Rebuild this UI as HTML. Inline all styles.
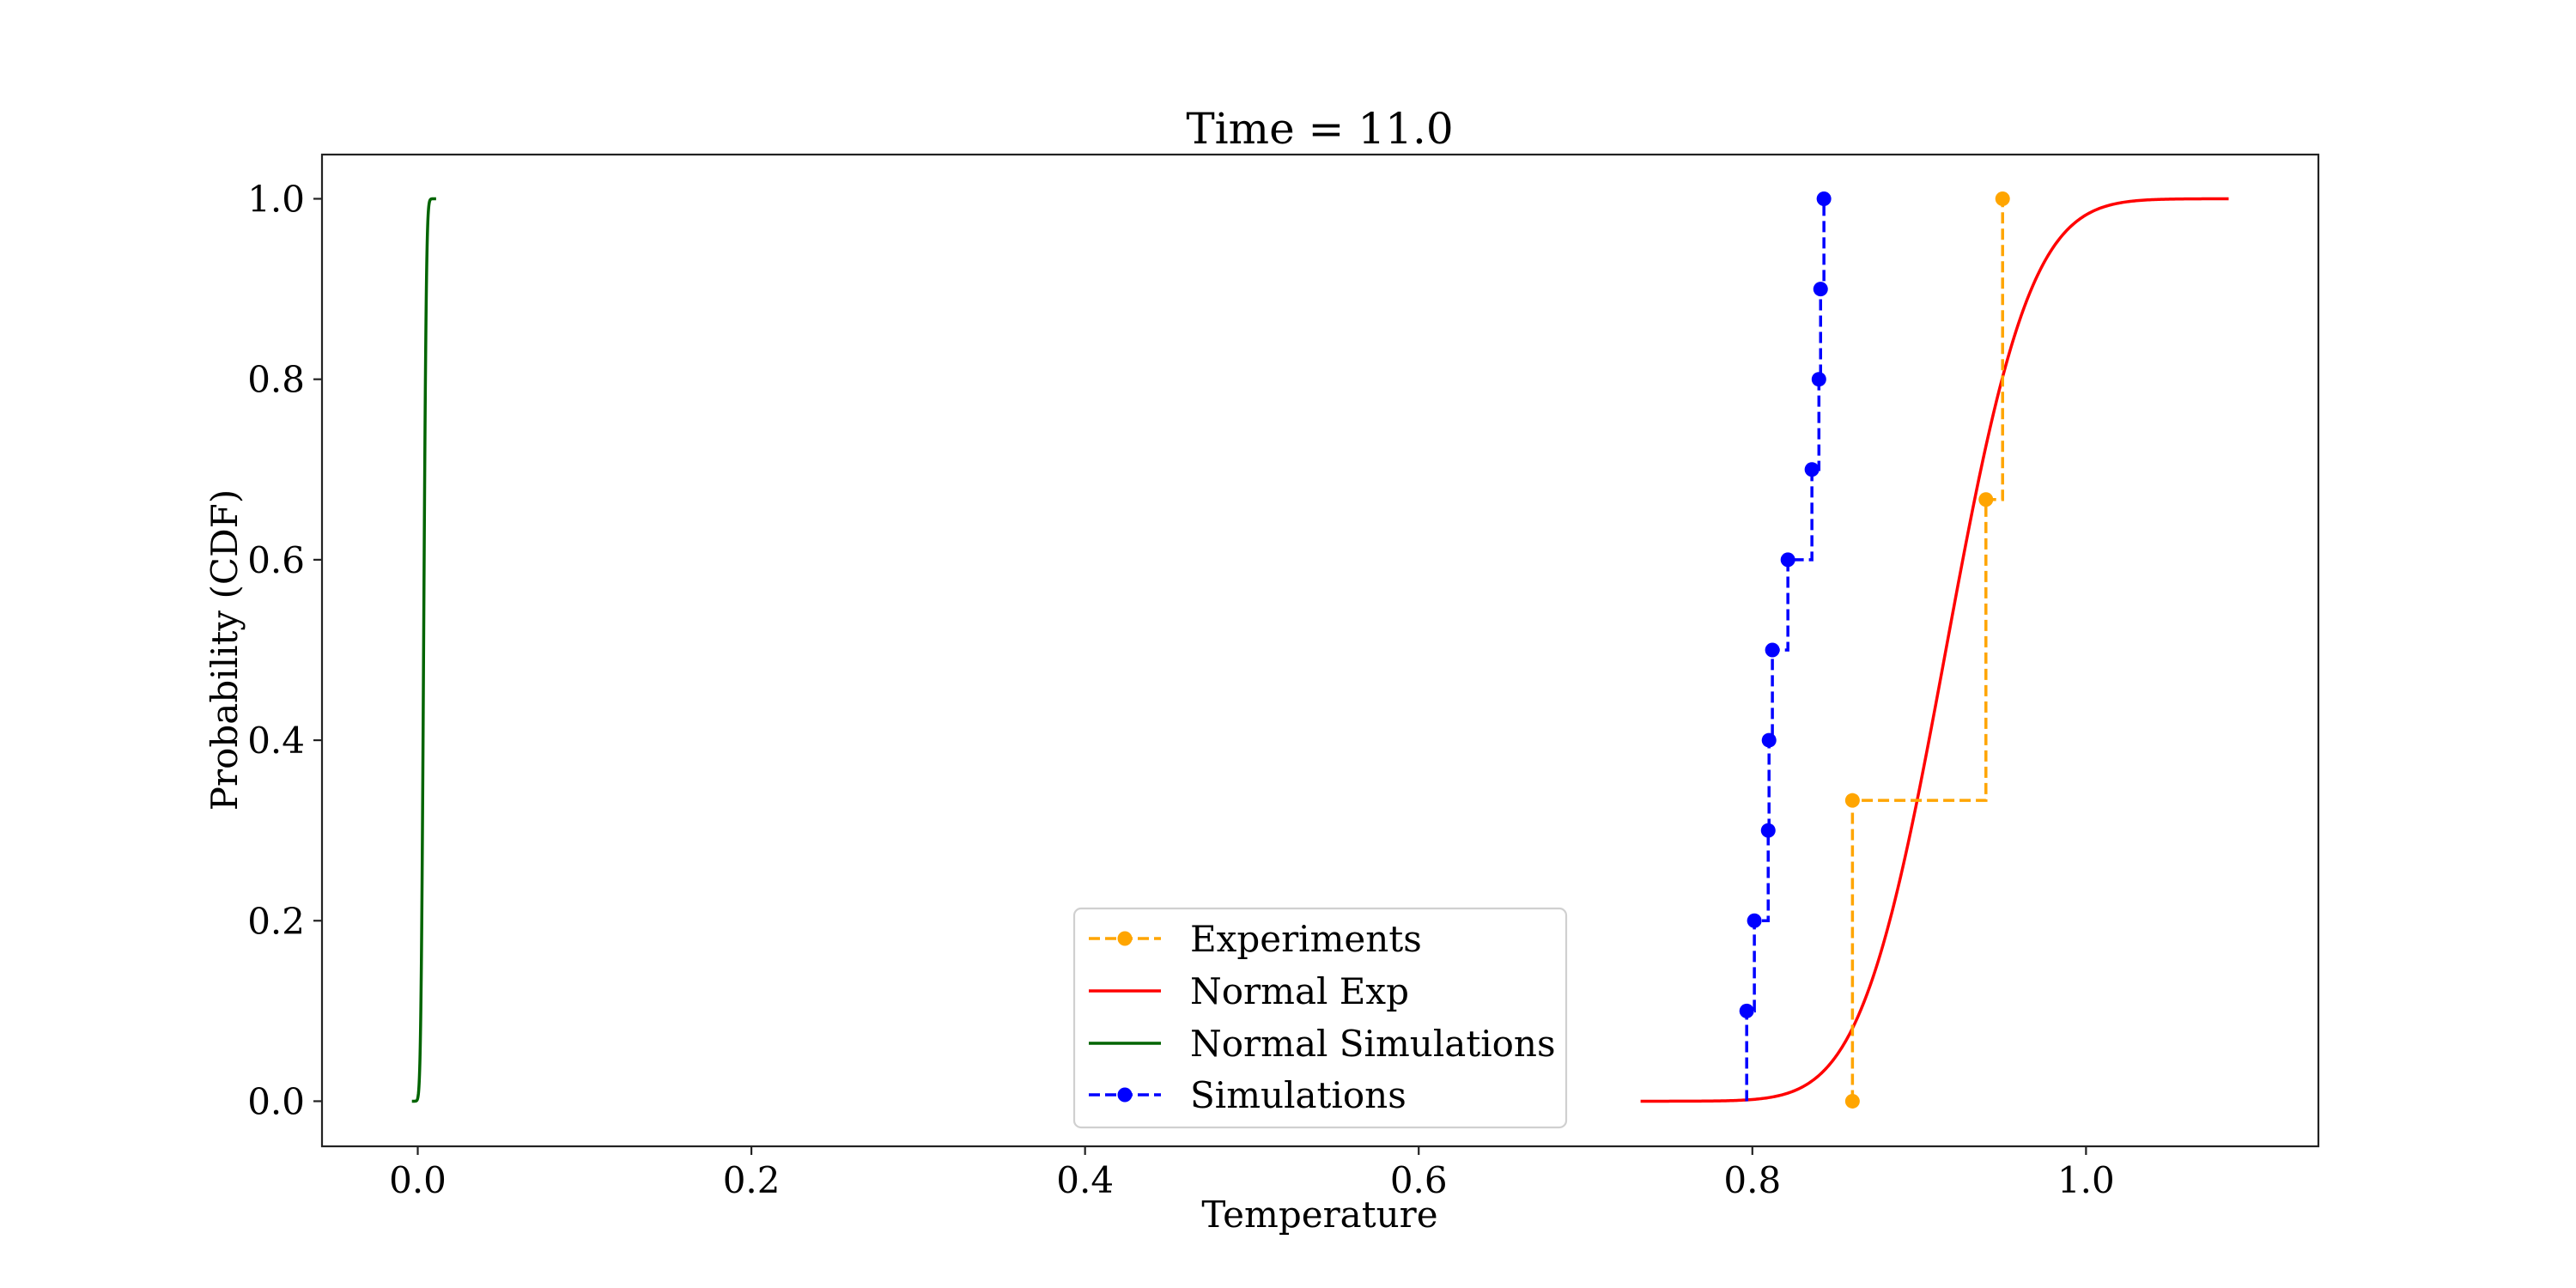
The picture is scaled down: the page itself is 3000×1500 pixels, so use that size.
<!DOCTYPE html>
<html><head><meta charset="utf-8"><style>
html,body{margin:0;padding:0;background:#fff;}
svg{display:block;font-family:"DejaVu Serif","Liberation Serif",serif;}
</style></head><body>
<svg id="chart" width="3000" height="1500" viewBox="0 0 3000 1500" xmlns="http://www.w3.org/2000/svg">
<rect x="0" y="0" width="3000" height="1500" fill="#fff"/>
<text x="1537" y="167" font-size="50" text-anchor="middle">Time = 11.0</text>
<g id="plot"></g>
<g id="axes"></g>
<text x="1537" y="1429" font-size="42" text-anchor="middle">Temperature</text>
<text transform="translate(276,757) rotate(-90)" font-size="42" text-anchor="middle">Probability (CDF)</text>
<g id="legend"></g>
</svg>
<script>
const xTicks=[0.0,0.2,0.4,0.6,0.8,1.0];
const xTickLabels=["0.0","0.2","0.4","0.6","0.8","1.0"];
const yTicks=[0.0,0.2,0.4,0.6,0.8,1.0];
const yTickLabels=["0.0","0.2","0.4","0.6","0.8","1.0"];
const simX=[0.7966,0.7966,0.8012,0.8095,0.8100,0.8120,0.8213,0.8357,0.8399,0.8409,0.8429];
const simY=[0.0,0.1,0.2,0.3,0.4,0.5,0.6,0.7,0.8,0.9,1.0];
const expX=[0.860,0.860,0.940,0.950];
const expY=[0.0,0.3333,0.6667,1.0];
const normExpParams=[0.916,0.040];
const normExpRange=[0.733,1.0855];
const normSimParams=[0.0035,0.0013];
const normSimRange=[-0.0035,0.011];

const L=375,R=2700,T=180,B=1335;
const xMin=-0.0574,xMax=1.1393,yMin=-0.05,yMax=1.049;
const sx=v=>L+(v-xMin)/(xMax-xMin)*(R-L);
const sy=v=>B-(v-yMin)/(yMax-yMin)*(B-T);
const NS="http://www.w3.org/2000/svg";
function mk(tag,attrs,parent){const e=document.createElementNS(NS,tag);for(const k in attrs)e.setAttribute(k,attrs[k]);parent.appendChild(e);return e;}
function erf(x){const s=x<0?-1:1;x=Math.abs(x);const t=1/(1+0.3275911*x);const y=1-(((((1.061405429*t-1.453152027)*t)+1.421413741)*t-0.284496736)*t+0.254829592)*t*Math.exp(-x*x);return s*y;}
function ncdf(x,m,s){return 0.5*(1+erf((x-m)/(s*Math.SQRT2)));}
const plot=document.getElementById('plot');
const axes=document.getElementById('axes');
const legend=document.getElementById('legend');

function normalPath(params,range,n){let d="";for(let i=0;i<=n;i++){const x=range[0]+(range[1]-range[0])*i/n;const y=ncdf(x,params[0],params[1]);d+=(i?"L":"M")+sx(x).toFixed(2)+","+sy(y).toFixed(2);}return d;}
function stepPath(xs,ys){let d="M"+sx(xs[0])+","+sy(ys[0]);for(let i=1;i<xs.length;i++){d+="L"+sx(xs[i])+","+sy(ys[i-1])+"L"+sx(xs[i])+","+sy(ys[i]);}return d;}

const gs=mk('path',{d:normalPath(normSimParams,normSimRange,400),fill:'none',stroke:'#006400','stroke-width':3.5},plot);


const re=mk('path',{d:normalPath(normExpParams,normExpRange,400),fill:'none',stroke:'#ff0000','stroke-width':3.5},plot);


const ol=mk('path',{d:stepPath(expX,expY),fill:'none',stroke:'#ffa500','stroke-width':3.5,'stroke-dasharray':'13,6'},plot);


for(let i=0;i<expX.length;i++){const c=mk('circle',{cx:sx(expX[i]),cy:sy(expY[i]),r:8.5,fill:'#ffa500'},plot);

}
const bl=mk('path',{d:stepPath(simX,simY),fill:'none',stroke:'#0000ff','stroke-width':3.5,'stroke-dasharray':'13,6'},plot);


for(let i=1;i<simX.length;i++){const c=mk('circle',{cx:sx(simX[i]),cy:sy(simY[i]),r:8.5,fill:'#0000ff'},plot);

}

const fr=mk('rect',{x:L,y:T,width:R-L,height:B-T,fill:'none',stroke:'#222','stroke-width':2.2},axes);


xTicks.forEach((v,i)=>{const x=sx(v);mk('line',{x1:x,y1:B,x2:x,y2:B+10,stroke:'#222','stroke-width':2.2},axes);
const t=mk('text',{x:x,y:B+54,'font-size':42,'text-anchor':'middle'},axes);t.textContent=xTickLabels[i];

});
yTicks.forEach((v,i)=>{const y=sy(v);mk('line',{x1:L-10,y1:y,x2:L,y2:y,stroke:'#222','stroke-width':2.2},axes);
const t=mk('text',{x:L-20,y:y+15,'font-size':42,'text-anchor':'end'},axes);t.textContent=yTickLabels[i];

});

const lb=mk('rect',{x:1251,y:1058,width:573,height:255,rx:8,fill:'#fff','fill-opacity':0.8,stroke:'#d0d0d0','stroke-width':2.2},legend);


const entries=[["Experiments","#ffa500",true],["Normal Exp","#ff0000",false],["Normal Simulations","#006400",false],["Simulations","#0000ff",true]];
const rowsY=[1093,1154,1215,1275];
entries.forEach((e,i)=>{const y=rowsY[i];
mk('line',{x1:1268,y1:y,x2:1352,y2:y,stroke:e[1],'stroke-width':3.5,'stroke-dasharray':e[2]?'13,6':'none'},legend);
if(e[2])mk('circle',{cx:1310,cy:y,r:8.5,fill:e[1]},legend);
const t=mk('text',{x:1386,y:y+15,'font-size':42},legend);t.textContent=e[0];

});
</script>
</body></html>
